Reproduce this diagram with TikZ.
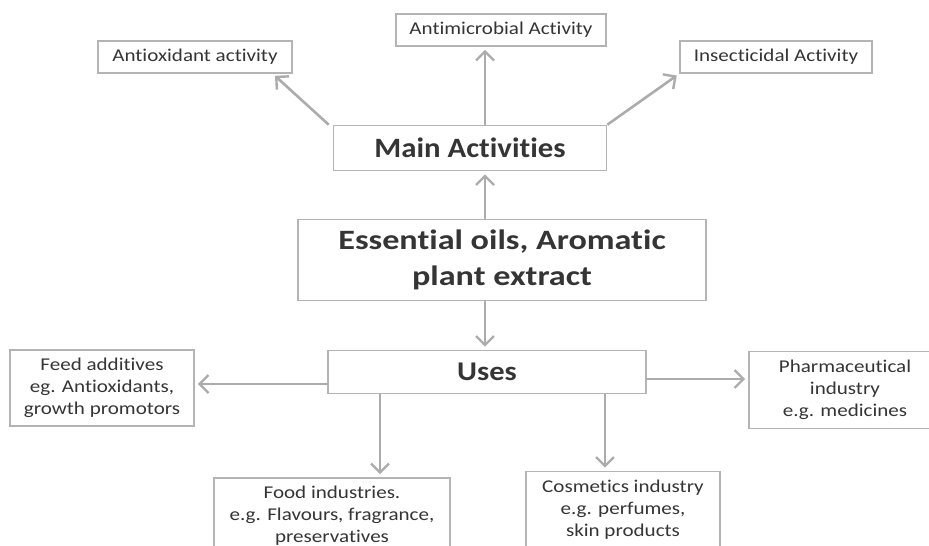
\documentclass[tikz,border=0pt]{standalone}
\usepackage{fontspec}
\setmainfont{Carlito}[Ligatures=CommonOff]
\usetikzlibrary{arrows.meta}
\definecolor{boxline}{HTML}{B4B4B4}
\definecolor{arrowgray}{HTML}{ACACAC}
\definecolor{inkgray}{HTML}{353535}
\begin{document}
\begin{tikzpicture}[x=1pt,y=-1pt,
    box/.style={draw=boxline,line width=1.6pt,fill=white,text=inkgray,
      align=center,inner sep=0pt},
    small/.style={box,font=\fontsize{18}{22}\selectfont\addfontfeature{FakeStretch=1.17}},
    big/.style={box,font=\bfseries\fontsize{28}{36}\selectfont\addfontfeature{FakeStretch=1.1}}]
  \useasboundingbox (0,0) rectangle (929,546);
  \clip (0,0) rectangle (929,546);
  \draw
    (195,57) node[small,minimum width=194pt,minimum height=32pt] (anti){Antioxidant activity}
    (501,30) node[small,minimum width=210pt,minimum height=32pt] (micro){Antimicrobial Activity}
    (776,57) node[small,minimum width=192pt,minimum height=32pt] (insect){Insecticidal Activity}
    (470,148) node[big,minimum width=273pt,minimum height=45pt] (main){Main Activities}
    (502,260) node[big,minimum width=408pt,minimum height=81pt,
      font=\bfseries\fontsize{28}{36}\selectfont\addfontfeature{FakeStretch=1.22}] (oils){Essential oils, Aromatic\\plant extract}
    (487,372) node[big,minimum width=318pt,minimum height=43pt,
      font=\bfseries\fontsize{27}{36}\selectfont\addfontfeature{FakeStretch=1.13}] (uses){Uses}
    (102,388) node[small,minimum width=184pt,minimum height=76pt] (feed){Feed additives\\eg. Antioxidants,\\growth promotors}
    (845,390) node[small,minimum width=192pt,minimum height=77pt] (pharma){Pharmaceutical\\industry\\e.g. medicines}
    (332,516) node[small,minimum width=236pt,minimum height=76pt] (food){Food industries.\\e.g. Flavours, fragrance,\\preservatives}
    (623,510) node[small,minimum width=194pt,minimum height=77pt] (cosm){Cosmetics industry\\e.g. perfumes,\\skin products};
  \coordinate (axis) at (485,0);
  \coordinate (ul) at (328,384);
  \coordinate (ur) at (646,379);
  \coordinate (dl) at (380,393);
  \coordinate (dr) at (605,393);
  \begin{scope}[draw=arrowgray,line width=2.6pt,
      -{Straight Barb[length=9pt,width=18pt,line width=2.4pt]},shorten >=3pt]
    \draw ([xshift=-4pt]main.north west) -- ([xshift=-20pt]anti.south east);
    \draw (main.north -| axis) -- (micro.south -| axis);
    \draw (main.north east) -- (insect.south west);
    \draw (oils.north -| axis) -- (main.south -| axis);
    \draw (oils.south -| axis) -- (uses.north -| axis);
    \draw (ul) -- (ul -| feed.east);
    \draw (ur) -- (ur -| pharma.west);
    \draw (dl) -- (dl |- food.north);
    \draw (dr) -- (dr |- cosm.north);
  \end{scope}
\end{tikzpicture}
\end{document}
